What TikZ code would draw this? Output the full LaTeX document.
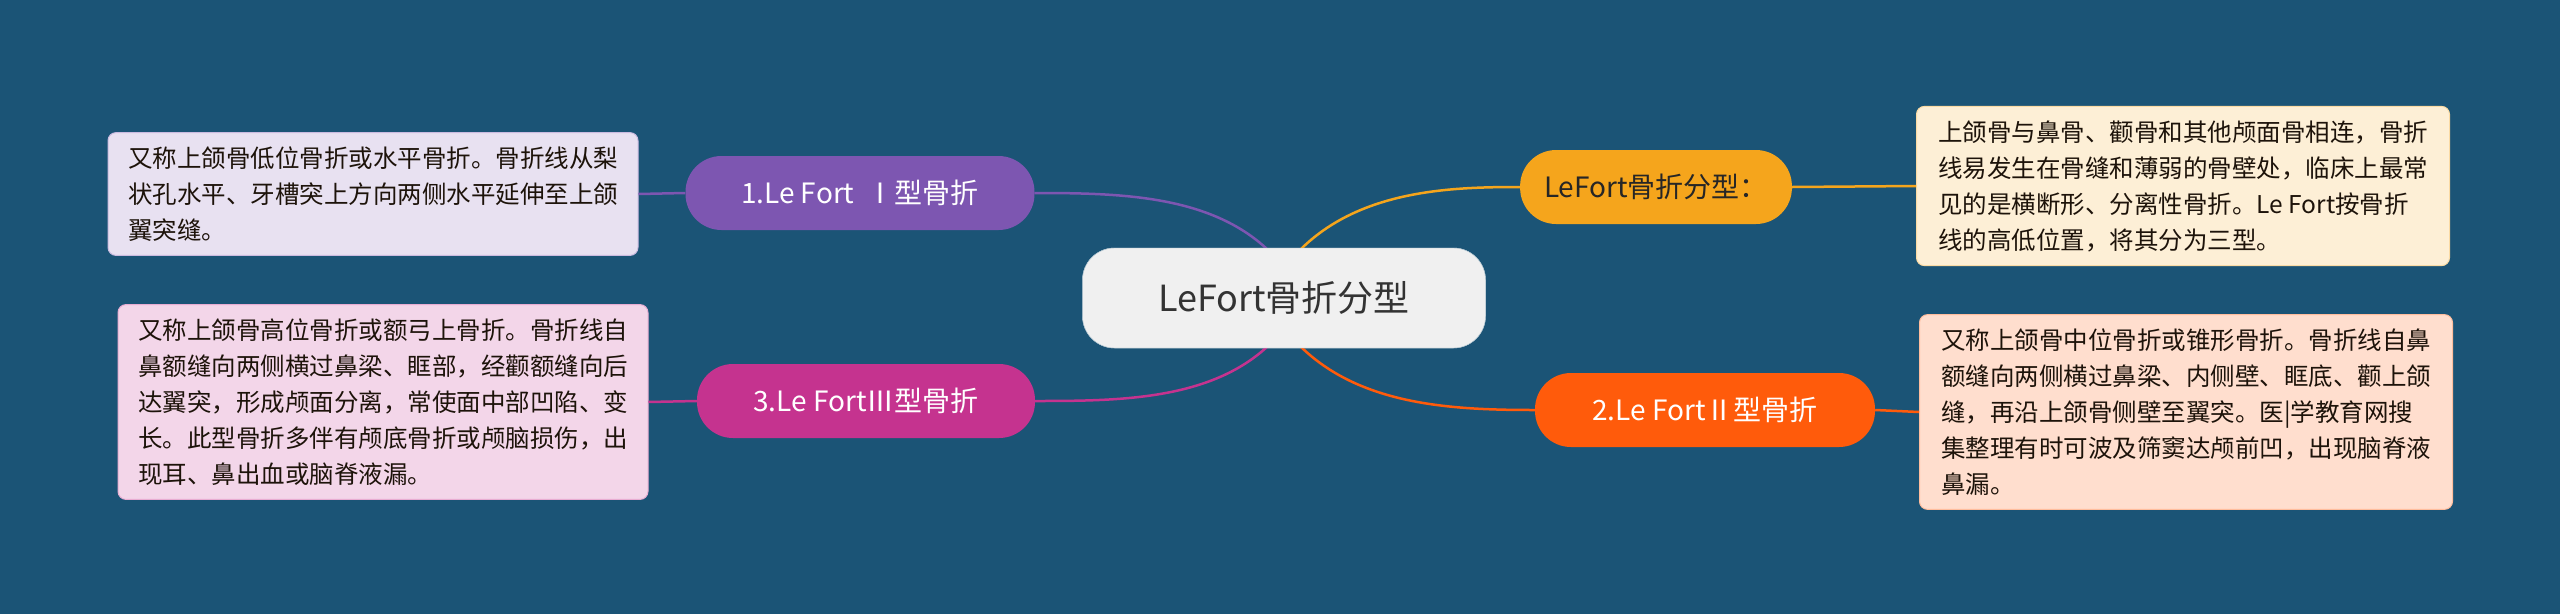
\documentclass[tikz,border=0pt]{standalone}
\usepackage{fontspec}
\setmainfont{Noto Sans CJK SC}
\begin{document}
\begin{tikzpicture}[x=1pt,y=-1pt,
 branch/.style={rounded corners=36pt,minimum height=74pt,inner xsep=24pt,font=\fontsize{28}{32}\selectfont},
 desc/.style={rounded corners=8pt,draw=#1,line width=1pt,align=left,inner xsep=14pt,inner ysep=14pt,font=\fontsize{24.5}{36}\selectfont,text=black!85!brown},
 link/.style={line width=2.5pt}]
\definecolor{bg}{HTML}{1B5476}
\definecolor{oran}{HTML}{F5A51C}
\definecolor{red2}{HTML}{FF5B0B}
\definecolor{purp}{HTML}{7D56B1}
\definecolor{mag}{HTML}{C5338F}
\fill[bg] (0,0) rectangle (2560,614);
\useasboundingbox (0,0) rectangle (2560,614);
\node[fill=white!94!black,draw=bg!40,rounded corners=32pt,minimum width=403pt,minimum height=100pt,font=\fontsize{36}{40}\selectfont,text=black!80] (c) at (1284,298) {LeFort骨折分型};
\node[branch,fill=oran,text=black!85,minimum width=242pt] (b1) at (1656,187) {LeFort骨折分型：};
\node[branch,fill=red2,text=white,minimum width=340pt] (b2) at (1705,410) {2.Le FortⅡ型骨折};
\node[branch,fill=purp,text=white,minimum width=349pt] (b3) at (860,193) {1.Le Fort \ Ⅰ型骨折};
\node[branch,fill=mag,text=white,minimum width=338pt] (b4) at (866,401) {3.Le FortⅢ型骨折};
\node[desc=oran!40,fill=oran!18!white,minimum width=533pt,minimum height=154pt] (d1) at (2183,186) {上颌骨与鼻骨、颧骨和其他颅面骨相连，骨折\\线易发生在骨缝和薄弱的骨壁处，临床上最常\\见的是横断形、分离性骨折。Le Fort按骨折\\线的高低位置，将其分为三型。};
\node[desc=red2!40,fill=red2!20!white,minimum width=533pt,minimum height=188pt] (d2) at (2186,412) {又称上颌骨中位骨折或锥形骨折。骨折线自鼻\\额缝向两侧横过鼻梁、内侧壁、眶底、颧上颌\\缝，再沿上颌骨侧壁至翼突。医|学教育网搜\\集整理有时可波及筛窦达颅前凹，出现脑脊液\\鼻漏。};
\node[desc=purp!40,fill=purp!18!white,minimum width=530pt,minimum height=121pt] (d3) at (373,194) {又称上颌骨低位骨折或水平骨折。骨折线从梨\\状孔水平、牙槽突上方向两侧水平延伸至上颌\\翼突缝。};
\node[desc=mag!40,fill=mag!20!white,minimum width=530pt,minimum height=187pt] (d4) at (383,402) {又称上颌骨高位骨折或额弓上骨折。骨折线自\\鼻额缝向两侧横过鼻梁、眶部，经颧额缝向后\\达翼突，形成颅面分离，常使面中部凹陷、变\\长。此型骨折多伴有颅底骨折或颅脑损伤，出\\现耳、鼻出血或脑脊液漏。};
\begin{scope}[on background layer/.style={}]
\end{scope}
\draw[link,oran] (1300,250) .. controls (1360,190) and (1450,187) .. (b1.west);
\draw[link,red2] (1300,346) .. controls (1360,405) and (1450,410) .. (b2.west);
\draw[link,purp] (1268,250) .. controls (1210,195) and (1120,193) .. (b3.east);
\draw[link,mag] (1268,346) .. controls (1210,400) and (1120,401) .. (b4.east);
\draw[link,oran] (b1.east) -- (d1.west);
\draw[link,red2] (b2.east) -- (d2.west);
\draw[link,purp] (b3.west) -- (d3.east);
\draw[link,mag] (b4.west) -- (d4.east);
\node[fill=white!94!black,draw=bg!40,rounded corners=32pt,minimum width=403pt,minimum height=100pt,font=\fontsize{36}{40}\selectfont,text=black!80] at (c) {LeFort骨折分型};
\end{tikzpicture}
\end{document}
